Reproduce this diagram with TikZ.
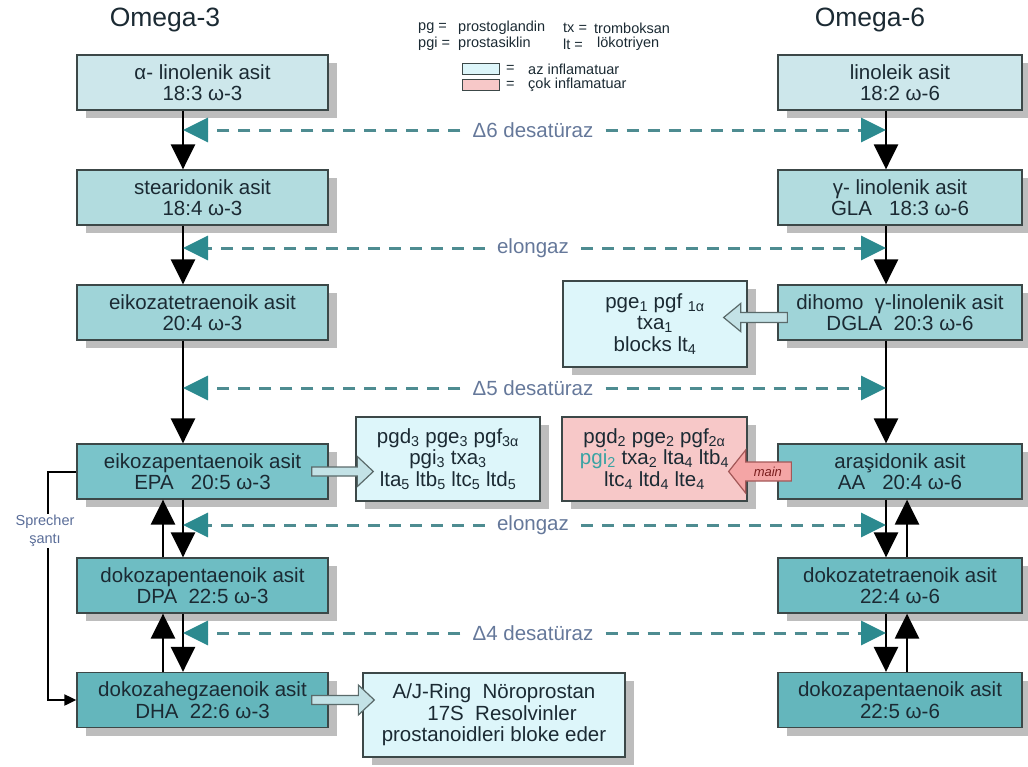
\documentclass[tikz,border=0pt]{standalone}
\usepackage{fontspec}
\setmainfont{Liberation Sans}
\usetikzlibrary{arrows.meta,shadows,calc}
\definecolor{rowa}{HTML}{CDE7EB}
\definecolor{rowb}{HTML}{B2DCDF}
\definecolor{rowc}{HTML}{9FD4D8}
\definecolor{rowd}{HTML}{7AC4CA}
\definecolor{rowe}{HTML}{6EBDC3}
\definecolor{rowf}{HTML}{64B6BC}
\definecolor{cyanl}{HTML}{DDF6FA}
\definecolor{pinkl}{HTML}{F7C8C8}
\definecolor{boxline}{HTML}{3C4848}
\definecolor{shadowg}{HTML}{BDBDBD}
\definecolor{txt}{HTML}{1B2A33}
\definecolor{dashc}{HTML}{4E8C91}
\definecolor{triteal}{HTML}{2C8A8F}
\definecolor{labc}{HTML}{65789A}
\definecolor{sprc}{HTML}{5B6E99}
\definecolor{pgic}{HTML}{3AA3A3}
\definecolor{arrfill}{HTML}{C3E2E6}
\definecolor{arrline}{HTML}{5A6A6A}
\definecolor{mainfill}{HTML}{F4A5A5}
\definecolor{mainline}{HTML}{A35858}
\definecolor{maintxt}{HTML}{7A1E1E}
\newcommand\myboxfont{\fontsize{20.5}{21.5}\selectfont}
\newcommand\blkarr[6]{\draw[#1] ($(#2)+(0,-#6)$) -- ($(#3)+(#4,-#6)$) -- ($(#3)+(#4,-#5)$) -- (#3) -- ($(#3)+(#4,#5)$) -- ($(#3)+(#4,#6)$) -- ($(#2)+(0,#6)$) -- cycle;}
\begin{document}
\begin{tikzpicture}[x=1pt,y=-1pt,
  box/.style={draw=boxline, line width=1.3pt, text=txt, font=\myboxfont, align=center, inner sep=0pt,
    drop shadow={shadow xshift=9pt, shadow yshift=-8pt, fill=shadowg, opacity=1}},
  lbox/.style={box, minimum width=251pt, minimum height=55pt},
  rbox/.style={box, minimum width=244pt, minimum height=55pt},
  prod/.style={box, fill=cyanl, minimum height=84pt},
  downarr/.style={line width=2.5pt, -{Triangle[length=25pt,width=24pt]}},
  dashl/.style={draw=dashc, line width=3pt, dash pattern=on 12pt off 9pt,
    -{Triangle[length=25pt,width=24pt,color=triteal]}},
  dlab/.style={text=labc, font=\myboxfont, inner xsep=12pt, inner ysep=2pt},
  blk/.style={draw=arrline, line width=1.2pt, fill=arrfill},
  mainarr/.style={draw=mainline, line width=1.2pt, fill=mainfill},
  leg/.style={font=\fontsize{14.5}{15}\selectfont, text=txt, anchor=west, inner sep=0pt},
  legrect/.style={draw=boxline, line width=1pt, minimum width=37pt, minimum height=11pt, inner sep=0pt},
  hdr/.style={font=\fontsize{26.5}{28}\selectfont, text=txt}
]
\useasboundingbox (0,0) rectangle (1028,766);

% headers
\node[hdr] (h3) at (165,20) {Omega-3};
\node[hdr] (h6) at (870,20) {Omega-6};

% legend
\node[leg] (lg1) at (418,28) {pg =};
\node[leg] (lg2) at (458,28) {prostoglandin};
\node[leg] (lg3) at (418,44) {pgi =};
\node[leg] (lg4) at (458,44) {prostasiklin};
\node[leg] (lg5) at (563,28) {tx =};
\node[leg] (lg6) at (594,28) {tromboksan};
\node[leg] (lg7) at (563,44) {lt =};
\node[leg] (lg8) at (597,44) {lökotriyen};
\node[legrect, fill=cyanl] (lr1) at (480.5,69) {};
\node[legrect, fill=pinkl] (lr2) at (480.5,85) {};
\node[leg] (le1) at (506,69) {=};
\node[leg] (le2) at (506,85) {=};
\node[leg] (la1) at (528,69) {az inflamatuar};
\node[leg] (la2) at (528,85) {çok inflamatuar};

% column coordinates
\coordinate (cL) at (183,0);
\coordinate (cLu) at (163,0);
\coordinate (cR) at (886,0);
\coordinate (cRu) at (907,0);

% left column
\node[lbox, fill=rowa] (L1) at (202.5,82.5) {α- linolenik asit\\18:3 ω-3};
\node[lbox, fill=rowb] (L2) at (202.5,197.5) {stearidonik asit\\18:4 ω-3};
\node[lbox, fill=rowc] (L3) at (202.5,312.5) {eikozatetraenoik asit\\20:4 ω-3};
\node[lbox, fill=rowd] (L4) at (202.5,471.5) {eikozapentaenoik asit\\EPA\ \ \ 20:5 ω-3};
\node[lbox, fill=rowe] (L5) at (202.5,585.5) {dokozapentaenoik asit\\DPA\ \ 22:5 ω-3};
\node[lbox, fill=rowf] (L6) at (202.5,700) {dokozahegzaenoik asit\\DHA\ \ 22:6 ω-3};

% right column
\node[rbox, fill=rowa] (R1) at (900,82.5) {linoleik asit\\18:2 ω-6};
\node[rbox, fill=rowb] (R2) at (900,197.5) {γ- linolenik asit\\GLA\ \ \ 18:3 ω-6};
\node[rbox, fill=rowc] (R3) at (900,312.5) {dihomo\ \ γ-linolenik asit\\DGLA\ \ 20:3 ω-6};
\node[rbox, fill=rowd] (R4) at (900,471.5) {araşidonik asit\\AA\ \ \ 20:4 ω-6};
\node[rbox, fill=rowe] (R5) at (900,585.5) {dokozatetraenoik asit\\22:4 ω-6};
\node[rbox, fill=rowf] (R6) at (900,700) {dokozapentaenoik asit\\22:5 ω-6};

% product boxes
\node[prod, minimum width=184pt] (P1) at (448,459)
  {pgd\textsubscript{3} pge\textsubscript{3} pgf\textsubscript{3α}\\pgi\textsubscript{3} txa\textsubscript{3}\\lta\textsubscript{5} ltb\textsubscript{5} ltc\textsubscript{5} ltd\textsubscript{5}};
\node[prod, fill=pinkl, minimum width=185pt] (P2) at (654.5,459)
  {pgd\textsubscript{2} pge\textsubscript{2} pgf\textsubscript{2α}\\{\color{pgic}pgi\textsubscript{2}} txa\textsubscript{2} lta\textsubscript{4} ltb\textsubscript{4}\\ltc\textsubscript{4} ltd\textsubscript{4} lte\textsubscript{4}};
\node[prod, minimum width=184pt, minimum height=86pt] (P3) at (655,324)
  {pge\textsubscript{1} pgf \textsubscript{1α}\\txa\textsubscript{1}\\blocks lt\textsubscript{4}};
\node[prod, minimum width=262pt] (P4) at (494,715)
  {A/J-Ring\ \ Nöroprostan\\\hspace*{16pt}17S\ \ Resolvinler\\prostanoidleri bloke eder};

% vertical arrows left
\draw[downarr] (L1.south -| cL) -- (L2.north -| cL);
\draw[downarr] (L2.south -| cL) -- (L3.north -| cL);
\draw[downarr] (L3.south -| cL) -- (L4.north -| cL);
\draw[downarr] (L4.south -| cL) -- (L5.north -| cL);
\draw[downarr] (L5.north -| cLu) -- (L4.south -| cLu);
\draw[downarr] (L5.south -| cL) -- (L6.north -| cL);
\draw[downarr] (L6.north -| cLu) -- (L5.south -| cLu);
% vertical arrows right
\draw[downarr] (R1.south -| cR) -- (R2.north -| cR);
\draw[downarr] (R2.south -| cR) -- (R3.north -| cR);
\draw[downarr] (R3.south -| cR) -- (R4.north -| cR);
\draw[downarr] (R4.south -| cR) -- (R5.north -| cR);
\draw[downarr] (R5.north -| cRu) -- (R4.south -| cRu);
\draw[downarr] (R5.south -| cR) -- (R6.north -| cR);
\draw[downarr] (R6.north -| cRu) -- (R5.south -| cRu);

% enzyme labels and dashed arrows
\node[dlab] (e1) at (533,130) {Δ6 desatüraz};
\node[dlab] (e2) at (533,248) {elongaz};
\node[dlab] (e3) at (533,388) {Δ5 desatüraz};
\node[dlab] (e4) at (533,525) {elongaz};
\node[dlab] (e5) at (533,633) {Δ4 desatüraz};
\foreach \e in {e1,e2,e3,e4,e5}{
  \draw[dashl] (\e.west) -- (\e.west -| cL);
  \draw[dashl] (\e.east) -- (\e.east -| cR);
}

% block arrows
\coordinate (a1t) at ($(L4.east)+(-17,0)$);
\coordinate (a1h) at ($(P1.west |- L4.east)+(18,0)$);
\blkarr{blk}{a1t}{a1h}{-16}{15}{4.5}
\coordinate (a2t) at ($(L6.east)+(-17,0)$);
\coordinate (a2h) at ($(P4.west |- L6.east)+(12,0)$);
\blkarr{blk}{a2t}{a2h}{-16}{15}{4.5}
\coordinate (a3t) at ($(R3.west)+(10,5)$);
\coordinate (a3h) at ($(P3.east |- a3t)+(-24,0)$);
\blkarr{blk}{a3t}{a3h}{17}{14}{5}
\coordinate (a4t) at ($(R4.west)+(14,0)$);
\coordinate (a4h) at ($(P2.east |- R4.west)+(-19,0)$);
\blkarr{mainarr}{a4t}{a4h}{17}{21.5}{9.5}
\node[text=maintxt, font=\fontsize{13}{14}\selectfont\itshape, inner sep=0pt] (mainlab) at ($(R4.west)+(-9.5,0)$) {main};

% Sprecher shunt
\coordinate (spx) at (48,0);
\draw[line width=2pt, -{Triangle[length=12pt,width=11pt]}] (L4.west) -- (L4.west -| spx) -- (L6.west -| spx) -- (L6.west);
\node[fill=white, text=sprc, font=\fontsize{14.5}{18}\selectfont, align=center, inner sep=1pt] (spr) at (45,531) {Sprecher\\şantı};
\end{tikzpicture}
\end{document}
